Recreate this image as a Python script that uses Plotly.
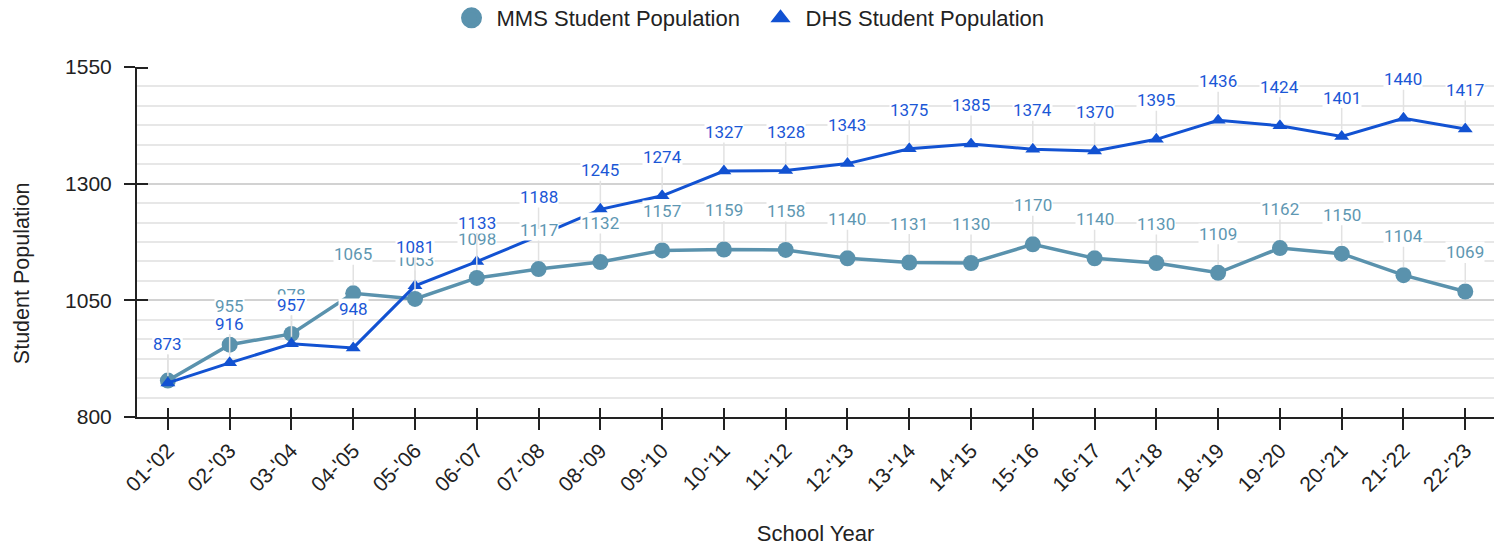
import plotly.graph_objects as go

years = ["01-'02", "02-'03", "03-'04", "04-'05", "05-'06", "06-'07", "07-'08", "08-'09",
         "09-'10", "10-'11", "11-'12", "12-'13", "13-'14", "14-'15", "15-'16", "16-'17",
         "17-'18", "18-'19", "19-'20", "20-'21", "21-'22", "22-'23"]
mms = [878, 955, 978, 1065, 1053, 1098, 1117, 1132, 1157, 1159, 1158, 1140, 1131, 1130,
       1170, 1140, 1130, 1109, 1162, 1150, 1104, 1069]
dhs = [873, 916, 957, 948, 1081, 1133, 1188, 1245, 1274, 1327, 1328, 1343, 1375, 1385,
       1374, 1370, 1395, 1436, 1424, 1401, 1440, 1417]
y_ticks = [800, 1050, 1300, 1550]

MMS_C = "#5a92ad"
DHS_C = "#1252d2"
MMS_LBL = "#5e97b2"
DHS_LBL = "#1b57d6"
AX = "#222222"
BASE_FONT = "Liberation Sans, Arial, sans-serif"

fig = go.Figure()
fig.add_trace(go.Scatter(x=years, y=mms, mode="lines+markers", line=dict(color=MMS_C, width=3.5),
                         marker=dict(color=MMS_C, size=16, symbol="circle"),
                         showlegend=False, name="MMS Student Population"))
fig.add_trace(go.Scatter(x=years, y=dhs, mode="lines+markers", line=dict(color=DHS_C, width=3),
                         marker=dict(color=DHS_C, size=13, symbol="triangle-up"),
                         showlegend=False, name="DHS Student Population"))
fig.add_trace(go.Scatter(x=[None], y=[None], mode="markers", name="MMS Student Population",
                         marker=dict(color=MMS_C, size=16, symbol="circle",
                                     line=dict(color=MMS_C, width=5)),
                         hoverinfo="skip"))
fig.add_trace(go.Scatter(x=[None], y=[None], mode="markers", name="DHS Student Population",
                         marker=dict(color=DHS_C, size=14, symbol="triangle-up",
                                     line=dict(color=DHS_C, width=2)),
                         hoverinfo="skip"))
# anchor for the overlay axes that carry the inner half of the crossing ticks
fig.add_trace(go.Scatter(x=list(range(len(years))), y=dhs, xaxis="x2", yaxis="y2",
                         mode="markers", marker=dict(opacity=0), showlegend=False,
                         hoverinfo="skip"))

annotations = []
for series, col, stand in ((mms, MMS_LBL, 8), (dhs, DHS_LBL, 7)):
    for xv, yv in zip(years, series):
        annotations.append(dict(
            x=xv, y=yv, xref="x", yref="y", text=str(yv), showarrow=True,
            arrowhead=0, arrowwidth=1.5, arrowcolor="#e2e2e2", ax=0, ay=-39,
            standoff=stand, bgcolor="rgba(255,255,255,1)", borderpad=0,
            font=dict(family="Roboto, sans-serif", size=17, color=col)))

annotations.append(dict(text="Student Population", xref="paper", yref="paper",
                        x=-0.085, y=0.41, xanchor="center", yanchor="middle",
                        textangle=-90, showarrow=False,
                        font=dict(family=BASE_FONT, size=21.5, color=AX)))

xr = [-0.5, 21.465]
fig.update_layout(
    width=1494, height=546,
    margin=dict(l=137, r=0, t=67, b=129, autoexpand=False),
    paper_bgcolor="white", plot_bgcolor="white",
    font=dict(family=BASE_FONT, color=AX, size=21),
    showlegend=True,
    legend=dict(orientation="h", xref="container", yref="container",
                x=0.5057, xanchor="center", y=0.967, yanchor="middle",
                font=dict(size=22, color=AX), itemwidth=40,
                entrywidth=254, entrywidthmode="pixels",
                traceorder="normal"),
    annotations=annotations,
    xaxis=dict(type="category", categoryarray=years, categoryorder="array", range=xr,
               showline=True, linecolor=AX, linewidth=2,
               ticks="outside", ticklen=11, tickwidth=2, tickcolor=AX,
               tickangle=-45, tickfont=dict(size=21, color=AX),
               showgrid=False, zeroline=False,
               title=dict(text="School Year", font=dict(size=22, color=AX), standoff=33)),
    yaxis=dict(range=[800, 1550], tickvals=y_ticks, showline=True, linecolor=AX, linewidth=2,
               ticks="outside", ticklen=11, tickwidth=2, tickcolor=AX,
               tickfont=dict(size=21, color=AX), ticklabelstandoff=8,
               showgrid=True, gridcolor="#d2d2d2", gridwidth=2, zeroline=False,
               minor=dict(tick0=800, dtick=250 / 6, showgrid=True, gridcolor="#e7e7e7",
                          gridwidth=1.5, ticks="")),
    xaxis2=dict(overlaying="x", anchor="y", side="bottom", type="linear", range=xr,
                tickmode="array", tickvals=list(range(len(years))), ticks="inside",
                ticklen=9, tickwidth=2, tickcolor=AX, showticklabels=False,
                showgrid=False, zeroline=False, showline=False),
    yaxis2=dict(overlaying="y", anchor="x", side="left", range=[799, 1552.3],
                tickmode="array", tickvals=y_ticks, ticks="inside", ticklen=11,
                tickwidth=2, tickcolor=AX, showticklabels=False,
                showgrid=False, zeroline=False, showline=False),
)

fig.write_html("out.html")
